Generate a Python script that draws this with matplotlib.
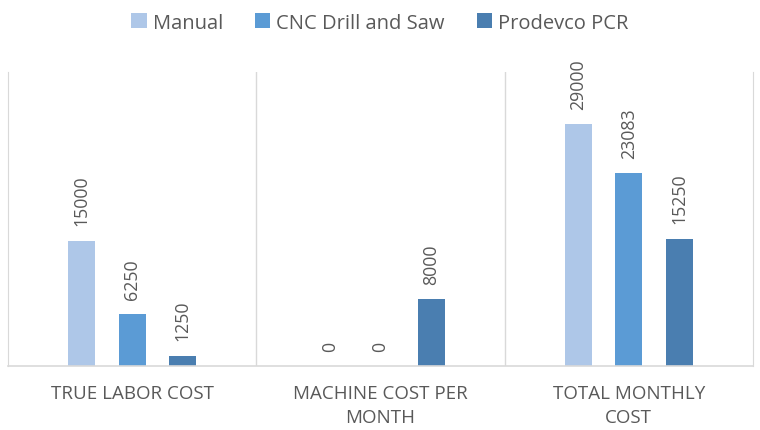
import numpy as np
import matplotlib
matplotlib.use("Agg")
from matplotlib import pyplot as plt

categories = ["TRUE LABOR COST", "MACHINE COST PER\nMONTH", "TOTAL MONTHLY\nCOST"]
series = ["Manual", "CNC Drill and Saw", "Prodevco PCR"]
manual = [15000, 0, 29000]
cnc = [6250, 0, 23083]
prodevco = [1250, 8000, 15250]

colors = ["#aec7e8", "#5b9bd5", "#4a7eb0"]
grid = "#d9d9d9"
txt = "#595959"

plt.rcParams['font.family'] = ['Open Sans', 'DejaVu Sans']

fig = plt.figure(figsize=(7.6, 4.31), dpi=100)
ax = fig.add_axes([0.0105, 0.1485, 0.9803, 0.6821])

x = np.arange(len(categories))
offs = [-0.204, 0.0, 0.204]
w = 0.108
for vals, name, c, o in zip([manual, cnc, prodevco], series, colors, offs):
    bars = ax.bar(x + o, vals, w, color=c, label=name)
    for b, v in zip(bars, vals):
        ax.annotate(str(v), (b.get_x() + b.get_width() / 2, v),
                    xytext=(0, 11), textcoords="offset points",
                    rotation=90, ha="center", va="bottom",
                    fontsize=12.8, color=txt)

ax.set_xlim(-0.5, 2.5)
ax.set_ylim(0, 35200)
ax.set_yticks([])
ax.set_xticks(x)
ax.set_xticklabels(categories, fontsize=13.5, color=txt, linespacing=1.45)
ax.tick_params(axis="x", length=0, pad=13)

ax.spines["top"].set_visible(False)
for s in ["left", "right"]:
    ax.spines[s].set_color(grid)
ax.spines["bottom"].set_color(grid)
ax.spines["bottom"].set_linewidth(1.2)
for xv in [0.5, 1.5]:
    ax.axvline(xv, color=grid, lw=1)

leg = fig.legend(loc="upper center", bbox_to_anchor=(0.5, 1.01), ncol=3,
                 frameon=False, fontsize=14.5, handlelength=0.75, handleheight=0.75,
                 handletextpad=0.3, columnspacing=1.6)
for t in leg.get_texts():
    t.set_color(txt)

fig.savefig("out.png", dpi=100)
